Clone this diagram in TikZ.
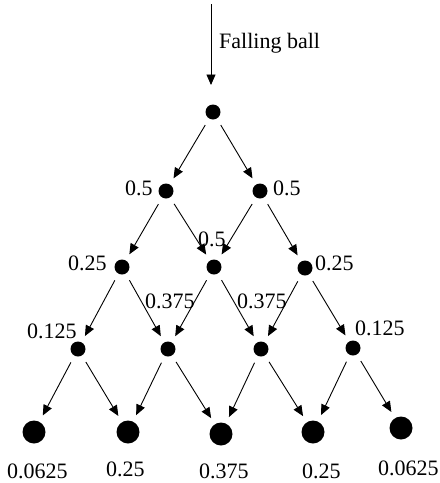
\documentclass[tikz,border=0pt]{standalone}
\usepackage{fontspec}
\setmainfont{Liberation Serif}
\usetikzlibrary{arrows.meta}
\begin{document}
\begin{tikzpicture}[x=1pt,y=-1pt,
  dot/.style={circle,fill=black,inner sep=0pt,minimum size=15pt},
  bigdot/.style={circle,fill=black,inner sep=0pt,minimum size=23pt},
  arr/.style={draw,line width=0.9pt,-{Triangle[length=10.5pt,width=9pt]},shorten <=7.5pt,shorten >=7pt},
  lbl/.style={anchor=base west,inner sep=0pt,font=\fontsize{22}{24}\selectfont}]
\useasboundingbox (0,0) rectangle (440,483);
% dots
\node[dot] (top) at (213,112) {};
\node[dot] (a1) at (166,191) {};
\node[dot] (a2) at (260,191) {};
\node[dot] (b1) at (122,267) {};
\node[dot] (b2) at (214,267) {};
\node[dot] (b3) at (305,268) {};
\node[dot] (c1) at (78,349) {};
\node[dot] (c2) at (168,349) {};
\node[dot] (c3) at (261,349) {};
\node[dot] (c4) at (353,348) {};
\node[bigdot] (d1) at (34,432) {};
\node[bigdot] (d2) at (128,432) {};
\node[bigdot] (d3) at (221,434) {};
\node[bigdot] (d4) at (313,432) {};
\node[bigdot] (d5) at (401,428) {};
% falling ball arrow
\coordinate (fall) at (211,4);
\draw[arr,shorten <=0pt,shorten >=27pt] (fall) -- (fall |- top);
\node[lbl] (fl) at (219,48) {Falling ball};
% connectors
\draw[arr] (top) -- (a1);
\draw[arr] (top) -- (a2);
\draw[arr] (a1) -- (b1);
\draw[arr] (a1) -- (b2);
\draw[arr] (a2) -- (b2);
\draw[arr] (a2) -- (b3);
\draw[arr] (b1) -- (c1);
\draw[arr] (b1) -- (c2);
\draw[arr] (b2) -- (c2);
\draw[arr] (b2) -- (c3);
\draw[arr] (b3) -- (c3);
\draw[arr] (b3) -- (c4);
\draw[arr] (c1) -- (d1);
\draw[arr] (c1) -- (d2);
\draw[arr] (c2) -- (d2);
\draw[arr] (c2) -- (d3);
\draw[arr] (c3) -- (d3);
\draw[arr] (c3) -- (d4);
\draw[arr] (c4) -- (d4);
\draw[arr] (c4) -- (d5);
% labels
\node[lbl] (la1) at (125,195) {0.5};
\node[lbl] (la2) at (273,195) {0.5};
\node[lbl] (lb1) at (68,270) {0.25};
\node[lbl] (lb2) at (198,246) {0.5};
\node[lbl] (lb3) at (315,270) {0.25};
\node[lbl] (lc1) at (27,338) {0.125};
\node[lbl] (lc2) at (145,308) {0.375};
\node[lbl] (lc3) at (237,308) {0.375};
\node[lbl] (lc4) at (355,335) {0.125};
\node[lbl] (ld1) at (7,478) {0.0625};
\node[lbl] (ld2) at (106,476) {0.25};
\node[lbl] (ld3) at (199,478) {0.375};
\node[lbl] (ld4) at (302,478) {0.25};
\node[lbl] (ld5) at (378,475) {0.0625};
\end{tikzpicture}
\end{document}
